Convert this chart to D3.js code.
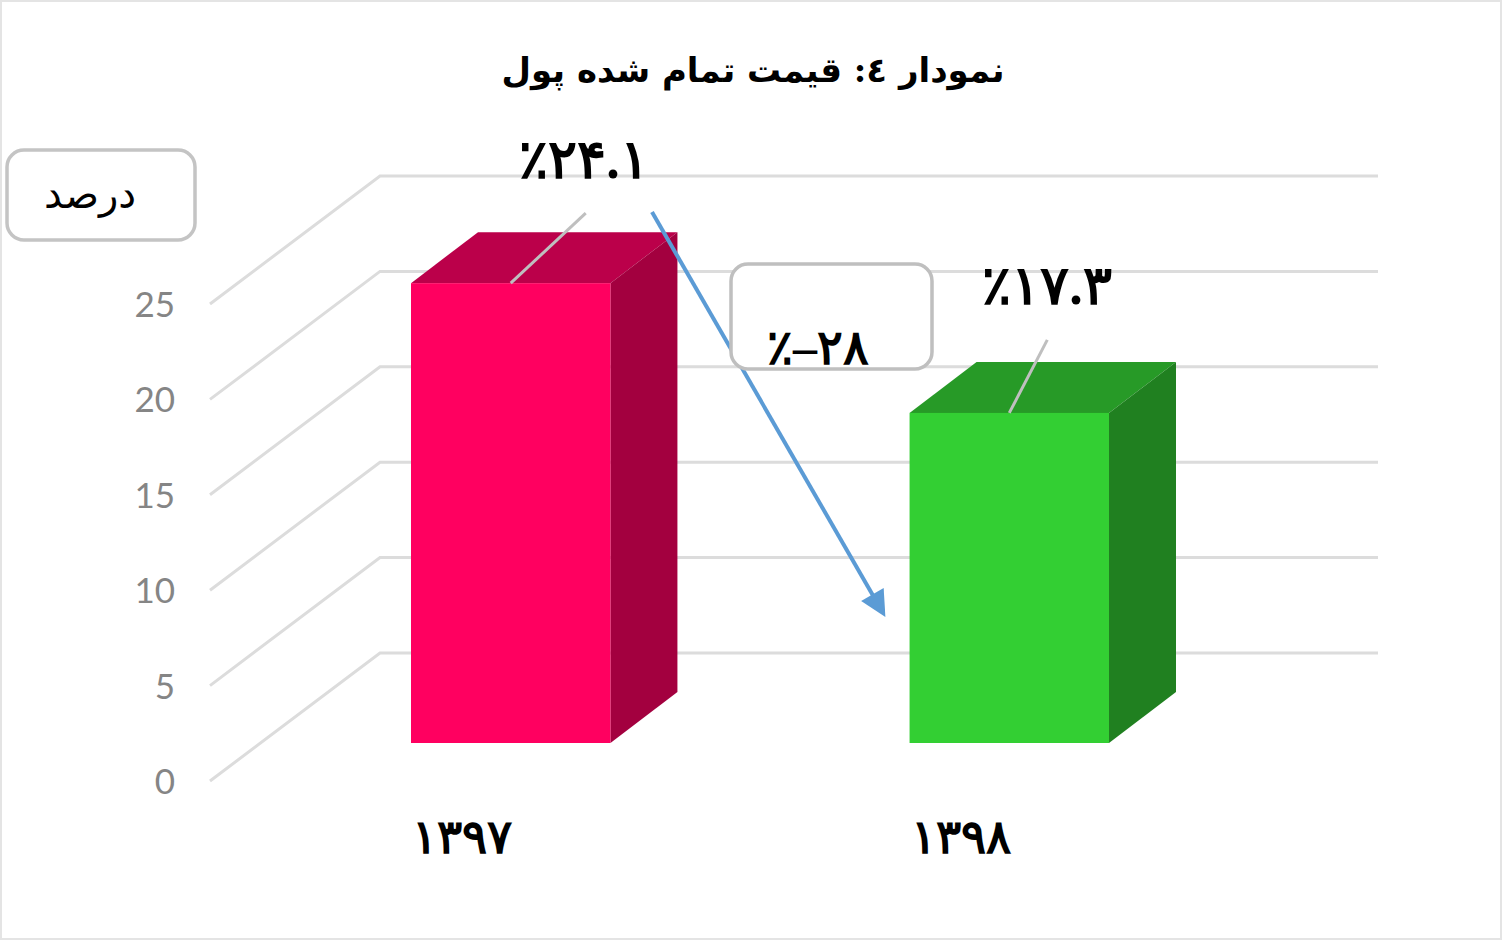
<!DOCTYPE html>
<html>
<head>
<meta charset="utf-8">
<script src="https://cdn.jsdelivr.net/npm/d3@7"></script>
<style>
  html, body { margin: 0; padding: 0; background: #fff; }
  svg { display: block; }
</style>
</head>
<body>
<div id="chart"></div>
<script>
var title_text = "نمودار ٤: قیمت تمام شده پول";
var unit_text = "درصد";
var change_text = "٪–۲۸";
var categories = ["1397", "1398"];
var category_labels = ["۱۳۹۷", "۱۳۹۸"];
var values = [24.1, 17.3];
var value_labels = ["٪۲۴.۱", "٪۱۷.۳"];
var bar_colors = ["#ff0060", "#33cf33"];
var top_colors = ["#bb004a", "#279a27"];
var side_colors = ["#a3003f", "#208020"];
var y_ticks = [0, 5, 10, 15, 20, 25];

var width = 1502, height = 941;
var font = "'DejaVu Serif', 'DejaVu Sans', serif";
var body_font = "'Liberation Serif', 'DejaVu Serif', serif";

var svg = d3.select("#chart").append("svg")
  .attr("width", width)
  .attr("height", height);

// outer chart border
svg.append("rect")
  .attr("x", 1).attr("y", 1)
  .attr("width", width - 2).attr("height", height - 3)
  .attr("fill", "#fff")
  .attr("stroke", "#e4e4e4")
  .attr("stroke-width", 2);

// y scale is the front edge of the floor, the back wall is shifted from it
var y = d3.scaleLinear().domain([0, 25]).range([781, 304]);
var x = d3.scaleBand().domain(categories).range([411, 1109]).paddingInner(0.6).paddingOuter(0);
var wall_dx = 170, wall_dy = -128;
var depth_dx = 67, depth_dy = -51;
var bar_base = 743;
var front_x = 210, wall_right = 1378;

// grid lines: diagonal on the floor/side, then straight along the wall
var grid = svg.append("g");
y_ticks.forEach(function(t) {
  grid.append("polyline")
    .attr("points", [
      [front_x, y(t)],
      [front_x + wall_dx, y(t) + wall_dy],
      [wall_right, y(t) + wall_dy]
    ].join(" "))
    .attr("fill", "none")
    .attr("stroke", "#dcdcdc")
    .attr("stroke-width", 3);
});

// y tick labels
svg.append("g").selectAll("text")
  .data(y_ticks)
  .enter()
  .append("text")
    .attr("x", 175)
    .attr("y", function(d) { return y(d) + 13; })
    .attr("text-anchor", "end")
    .attr("font-family", "Lato, sans-serif")
    .attr("font-size", "35px")
    .attr("fill", "#858585")
    .text(function(d) { return d; });

// bars, each one front + top + side
var bars = svg.append("g").selectAll("g")
  .data(values)
  .enter()
  .append("g");

function bar_x(i) { return x(categories[i]); }
function bar_top(d) { return bar_base - (y(0) - y(d)); }

bars.append("polygon")
  .attr("fill", function(d, i) { return top_colors[i]; })
  .attr("points", function(d, i) {
    var x0 = bar_x(i), x1 = x0 + x.bandwidth(), t = bar_top(d);
    return [[x0, t], [x1, t], [x1 + depth_dx, t + depth_dy], [x0 + depth_dx, t + depth_dy]].join(" ");
  });

bars.append("polygon")
  .attr("fill", function(d, i) { return side_colors[i]; })
  .attr("points", function(d, i) {
    var x1 = bar_x(i) + x.bandwidth(), t = bar_top(d);
    return [[x1, t], [x1 + depth_dx, t + depth_dy], [x1 + depth_dx, bar_base + depth_dy], [x1, bar_base]].join(" ");
  });

bars.append("rect")
  .attr("x", function(d, i) { return bar_x(i); })
  .attr("y", function(d) { return bar_top(d); })
  .attr("width", x.bandwidth())
  .attr("height", function(d) { return bar_base - bar_top(d); })
  .attr("fill", function(d, i) { return bar_colors[i]; });

// leader lines from the value labels to the bars
var label_shift = [[75, -70], [38, -73]];
bars.append("line")
  .attr("x1", function(d, i) { return bar_x(i) + x.bandwidth() / 2; })
  .attr("y1", function(d) { return bar_top(d); })
  .attr("x2", function(d, i) { return bar_x(i) + x.bandwidth() / 2 + label_shift[i][0]; })
  .attr("y2", function(d, i) { return bar_top(d) + label_shift[i][1]; })
  .attr("stroke", "#bfbfbf")
  .attr("stroke-width", 3);

// value labels
var label_pos = [[584, 178], [1047, 304]];
bars.append("text")
  .attr("x", function(d, i) { return label_pos[i][0]; })
  .attr("y", function(d, i) { return label_pos[i][1]; })
  .attr("text-anchor", "middle")
  .attr("font-family", body_font)
  .attr("font-weight", "bold")
  .attr("font-size", "54px")
  .attr("fill", "#000")
  .text(function(d, i) { return value_labels[i]; });

// category labels
svg.append("g").selectAll("text")
  .data(category_labels)
  .enter()
  .append("text")
    .attr("x", function(d, i) { return bar_x(i) + 51; })
    .attr("y", 853)
    .attr("text-anchor", "middle")
    .attr("font-family", body_font)
    .attr("font-weight", "bold")
    .attr("font-size", "47px")
    .attr("fill", "#000")
    .text(function(d) { return d; });

// title
svg.append("text")
  .attr("x", 753).attr("y", 82)
  .attr("text-anchor", "middle")
  .attr("direction", "rtl")
  .attr("font-family", font)
  .attr("font-weight", "bold")
  .attr("font-size", "34px")
  .attr("fill", "#000")
  .text(title_text);

// arrow, the marker tip sticks out past the line end
var defs = svg.append("defs");
defs.append("marker")
  .attr("id", "arrow")
  .attr("viewBox", "0 0 10 10")
  .attr("refX", 4).attr("refY", 5)
  .attr("markerUnits", "userSpaceOnUse")
  .attr("orient", "auto")
  .attr("markerWidth", 28).attr("markerHeight", 26)
  .append("path")
    .attr("d", "M0,0L10,5L0,10Z")
    .attr("fill", "#5b9bd5");

svg.append("line")
  .attr("x1", 652).attr("y1", 212)
  .attr("x2", 877.6).attr("y2", 603.5)
  .attr("stroke", "#5b9bd5")
  .attr("stroke-width", 4)
  .attr("marker-end", "url(#arrow)");

// callout boxes
svg.append("rect")
  .attr("x", 731).attr("y", 264)
  .attr("width", 201).attr("height", 105)
  .attr("rx", 17)
  .attr("fill", "#fff")
  .attr("stroke", "#bfbfbf")
  .attr("stroke-width", 3.5);

svg.append("text")
  .attr("x", 818).attr("y", 364)
  .attr("text-anchor", "middle")
  .attr("font-family", body_font)
  .attr("font-weight", "bold")
  .attr("font-size", "48px")
  .attr("fill", "#000")
  .text(change_text);

svg.append("rect")
  .attr("x", 7).attr("y", 150)
  .attr("width", 188).attr("height", 90)
  .attr("rx", 17)
  .attr("fill", "#fff")
  .attr("stroke", "#c4c4c4")
  .attr("stroke-width", 3.5);

svg.append("text")
  .attr("x", 90).attr("y", 208)
  .attr("text-anchor", "middle")
  .attr("direction", "rtl")
  .attr("font-family", font)
  .attr("font-size", "40px")
  .attr("fill", "#000")
  .text(unit_text);
</script>
</body>
</html>
